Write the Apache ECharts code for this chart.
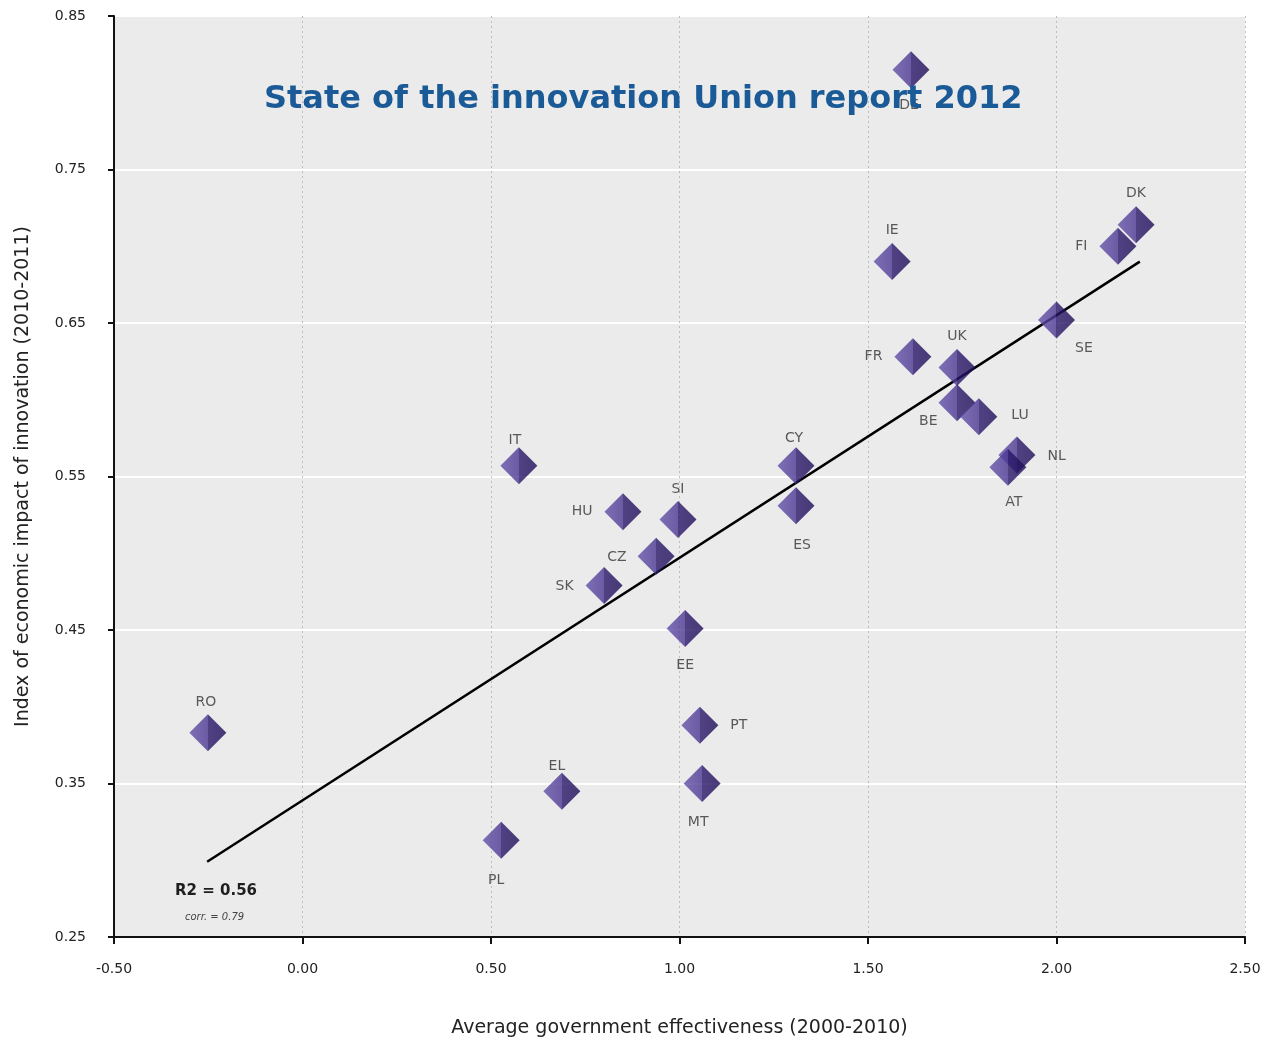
<!DOCTYPE html>
<html>
<head>
<meta charset="utf-8">
<script src="https://cdn.jsdelivr.net/npm/echarts@6/dist/echarts.min.js"></script>
<style>
html,body{margin:0;padding:0;background:#fff;}
#chart{width:1267px;height:1040px;}
</style>
</head>
<body>
<div id="chart"></div>
<script>
// Data
var countries = ['DE','DK','FI','IE','SE','FR','UK','BE','LU','NL','AT','CY','ES','IT','HU','SI','CZ','SK','EE','PT','MT','EL','PL','RO'];
var govEffectiveness = [1.614,2.211,2.163,1.564,2.000,1.619,1.736,1.736,1.794,1.895,1.871,1.309,1.309,0.574,0.850,0.996,0.938,0.800,1.015,1.054,1.060,0.688,0.527,-0.251];
var innovationImpact = [0.815,0.714,0.700,0.690,0.652,0.628,0.621,0.598,0.589,0.564,0.556,0.557,0.531,0.557,0.527,0.522,0.498,0.479,0.451,0.388,0.350,0.345,0.313,0.383];
var trendX = [-0.253, 2.221];
var trendY = [0.299, 0.690];
var xTicks = [-0.5, 0, 0.5, 1.0, 1.5, 2.0, 2.5];
var yTicks = [0.25, 0.35, 0.45, 0.55, 0.65, 0.75, 0.85];

// label placement (style)
var labelPlacement = {
  DE:['bottom',[-2,6]], DK:['top',[0,-2]], FI:['left',[-8,0]], IE:['top',[0,-2]],
  SE:['right',[-4,28]], FR:['left',[-8,0]], UK:['top',[0,-2]], BE:['left',[3,19]],
  LU:['right',[10,-1]], NL:['right',[8,1]], AT:['bottom',[6,6]], CY:['top',[-2,2]],
  ES:['bottom',[6,10]], IT:['top',[-4,4]], HU:['left',[-8,0]], SI:['top',[0,-1]],
  CZ:['left',[-7,1]], SK:['left',[-8,1]], EE:['bottom',[0,7]], PT:['right',[8,0]],
  MT:['bottom',[-4,9]], EL:['top',[-5,5]], PL:['bottom',[-5,11]], RO:['top',[-2,-1]]
};

var diamondColor = new echarts.graphic.LinearGradient(0,0,1,0,[
  {offset:0,color:'#6250a8'},{offset:0.5,color:'#4a3792'},
  {offset:0.5,color:'#29166a'},{offset:1,color:'#1d0d56'}
]);

var points = countries.map(function(c,i){
  var lp = labelPlacement[c];
  return {
    name:c,
    value:[govEffectiveness[i], innovationImpact[i]],
    label:{position:lp[0], offset:lp[1]}
  };
});

var trendData = trendX.map(function(x,i){return [x, trendY[i]];});

var chart = echarts.init(document.getElementById('chart'));
var fontFam = '"DejaVu Sans", Verdana, sans-serif';
chart.setOption({
  animation:false,
  backgroundColor:'#ffffff',
  title:[
    {text:'State of the innovation Union report 2012', left:259, top:79,
     textStyle:{color:'#1a5a96', fontSize:32, fontWeight:'bold', fontFamily:fontFam}, z:10},
    {text:'R2 = 0.56', left:170, top:879,
     textStyle:{color:'#1e1e1e', fontSize:15, fontWeight:'bold', fontFamily:fontFam}},
    {text:'corr. = 0.79', left:180, top:907,
     textStyle:{color:'#444', fontSize:10, fontStyle:'italic', fontWeight:'normal', fontFamily:fontFam}}
  ],
  grid:{left:114, right:22, top:16, bottom:103, show:true, backgroundColor:'#ebebeb', borderWidth:0,
        outerBoundsMode:'none', containLabel:false},
  xAxis:{
    type:'value', min:xTicks[0], max:xTicks[xTicks.length-1], interval:0.5,
    name:'Average government effectiveness (2000-2010)', nameLocation:'middle', nameGap:82,
    nameTextStyle:{color:'#222', fontSize:19, fontFamily:fontFam},
    axisLine:{show:true, onZero:false, lineStyle:{color:'#111', width:2}},
    axisTick:{show:true, length:7, lineStyle:{color:'#111', width:2}},
    axisLabel:{color:'#222', fontSize:14, fontFamily:fontFam, margin:25,
      formatter:function(v){return v.toFixed(2);}},
    splitLine:{show:true, lineStyle:{color:'#bdbdbd', type:[2,3], width:1}}
  },
  yAxis:{
    type:'value', min:yTicks[0], max:yTicks[yTicks.length-1], interval:0.1,
    name:'Index of economic impact of innovation (2010-2011)', nameLocation:'middle', nameGap:81,
    nameTextStyle:{color:'#222', fontSize:19, fontFamily:fontFam},
    axisLine:{show:true, onZero:false, lineStyle:{color:'#111', width:2}},
    axisTick:{show:true, length:6, lineStyle:{color:'#111', width:2}},
    axisLabel:{color:'#222', fontSize:14, fontFamily:fontFam, margin:28,
      formatter:function(v){return v.toFixed(2);}},
    splitLine:{show:true, lineStyle:{color:'#ffffff', width:2}}
  },
  series:[
    {
      type:'line', data:trendData, symbol:'none', z:3,
      lineStyle:{color:'#000', width:2.5}, silent:true
    },
    {
      type:'scatter', data:points, symbol:'diamond', symbolSize:37, z:4,
      itemStyle:{color:diamondColor},
      label:{show:true, formatter:'{b}', color:'#333', fontSize:14, fontFamily:fontFam, distance:4}
    }
  ]
});
</script>
</body>
</html>
